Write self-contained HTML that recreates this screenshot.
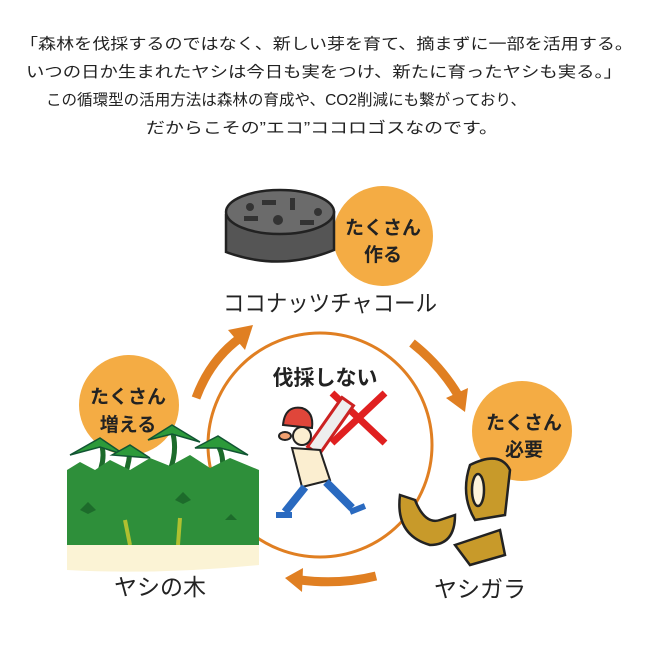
<!DOCTYPE html>
<html><head><meta charset="utf-8"><style>
html,body{margin:0;padding:0;background:#fff;width:650px;height:650px;overflow:hidden}
svg{display:block}
text{font-family:"Liberation Sans","Noto Sans CJK JP",sans-serif;fill:#222}
</style></head><body>
<svg width="650" height="650" viewBox="0 0 650 650">
<g font-size="15.5">
<text x="20" y="49" textLength="613" lengthAdjust="spacingAndGlyphs">「森林を伐採するのではなく、新しい芽を育て、摘まずに一部を活用する。</text>
<text x="26" y="77" textLength="596" lengthAdjust="spacingAndGlyphs">いつの日か生まれたヤシは今日も実をつけ、新たに育ったヤシも実る。」</text>
<text x="46" y="105" textLength="480" lengthAdjust="spacingAndGlyphs">この循環型の活用方法は森林の育成や、CO2削減にも繋がっており、</text>
<text x="146" y="133" textLength="352" lengthAdjust="spacingAndGlyphs">だからこその”エコ”ココロゴスなのです。</text>
</g>
<circle cx="383" cy="236" r="50" fill="#f4ac44"/>
<circle cx="129" cy="405" r="50" fill="#f4ac44"/>
<circle cx="522" cy="431" r="50" fill="#f4ac44"/>
<!-- charcoal -->
<path d="M226 215 L226 252 Q280 272 334 250 L334 212 Z" fill="#555" stroke="#222" stroke-width="2.5"/>
<ellipse cx="280" cy="212" rx="54" ry="22" fill="#6b6b6b" stroke="#222" stroke-width="2.5"/>
<g fill="#333"><circle cx="278" cy="220" r="5"/><rect x="262" y="200" width="14" height="5"/><rect x="290" y="198" width="5" height="12"/><rect x="244" y="216" width="14" height="5"/><rect x="300" y="220" width="14" height="5"/><circle cx="250" cy="207" r="4"/><circle cx="318" cy="212" r="4"/></g>
<text x="383" y="234" font-size="19" font-weight="bold" text-anchor="middle">たくさん</text>
<text x="383" y="261" font-size="19" font-weight="bold" text-anchor="middle">作る</text>
<text x="330" y="311" font-size="23" text-anchor="middle" textLength="214" lengthAdjust="spacingAndGlyphs">ココナッツチャコール</text>
<circle cx="320" cy="445" r="112" fill="none" stroke="#e07f22" stroke-width="3"/>
<g fill="none" stroke="#e07f22" stroke-width="9">
<path d="M196 398 Q210 360 240 338"/>
<path d="M412 343 Q440 365 458 395"/>
<path d="M376 576 Q340 585 300 580"/>
</g>
<g fill="#e07f22">
<polygon points="253,325 228,330 245,350"/>
<polygon points="465,412 446,398 468,388"/>
<polygon points="285,578 303,568 302,592"/>
</g>
<text x="325" y="385" font-size="21" text-anchor="middle" font-weight="bold">伐採しない</text>
<!-- man -->
<g stroke="#222" stroke-width="2">
<path d="M332 393 L385 443 M385 393 L332 443" stroke="#e02020" stroke-width="7"/>
<rect x="322" y="395" width="14" height="60" transform="rotate(35 328 428)" fill="#eee" stroke="#c22" stroke-width="3"/>
<path d="M283 425 Q285 405 302 408 Q314 412 312 428 Z" fill="#e0463a"/>
<circle cx="302" cy="436" r="9" fill="#fbeed0"/>
<ellipse cx="285" cy="436" rx="6" ry="4" fill="#f0a070"/>
<path d="M292 448 L320 450 L330 480 L302 487 Z" fill="#fbeed0"/>
<path d="M305 487 L285 512 M326 482 L352 508" stroke="#2a6ac0" stroke-width="8"/>
<path d="M276 515 L292 515 M350 512 L365 506" stroke="#2a6ac0" stroke-width="6"/>
</g>
<!-- left trees -->
<g stroke="#1d6b2b" stroke-width="5" fill="none">
<path d="M95 480 Q108 460 100 440 M170 470 Q178 450 172 430 M222 470 Q225 455 215 440 M125 475 Q130 460 130 448"/>
</g>
<g fill="#2c9a3a" stroke="#153" stroke-width="1.5">
<path d="M70 455 L100 438 L125 455 L100 447 Z"/><path d="M148 440 L172 425 L200 442 L172 434 Z"/><path d="M195 448 L218 436 L248 455 L220 448 Z"/><path d="M112 455 L130 445 L150 458 Z"/>
</g>
<path d="M67 470 L80 462 L95 470 L110 460 L130 470 L150 458 L170 466 L190 455 L210 468 L230 458 L259 470 L259 545 L67 545 Z" fill="#2e8f3a"/>
<g fill="#1d6b2b"><path d="M80 510 l8 -8 l8 8 l-8 4 Z"/><path d="M175 500 l8 -8 l8 8 l-8 4 Z"/><path d="M225 520 l6 -6 l6 6 Z"/></g>
<g stroke="#b0c030" stroke-width="4"><path d="M130 545 L125 520 M178 545 L180 518"/></g>
<path d="M67 545 L259 545 L259 565 Q160 575 67 570 Z" fill="#fbf3d5"/>
<text x="128" y="403" font-size="19" font-weight="bold" text-anchor="middle">たくさん</text>
<text x="128" y="431" font-size="19" font-weight="bold" text-anchor="middle">増える</text>
<text x="160" y="595" font-size="23" text-anchor="middle">ヤシの木</text>
<text x="524" y="429" font-size="19" font-weight="bold" text-anchor="middle">たくさん</text>
<text x="524" y="456" font-size="19" font-weight="bold" text-anchor="middle">必要</text>
<g stroke="#222" stroke-width="2.5" fill="#c89a2a">
<path d="M470 465 Q500 450 510 470 L505 515 L475 520 Q460 495 470 465 Z"/>
<ellipse cx="478" cy="490" rx="6" ry="16" fill="#fff5dd"/>
<path d="M400 495 Q395 535 430 545 Q455 545 455 515 L440 520 Q425 525 415 500 Z"/>
<path d="M455 545 L500 530 L505 555 L470 565 Z"/>
</g>
<text x="480" y="597" font-size="23" text-anchor="middle">ヤシガラ</text>
</svg>
</body></html>
